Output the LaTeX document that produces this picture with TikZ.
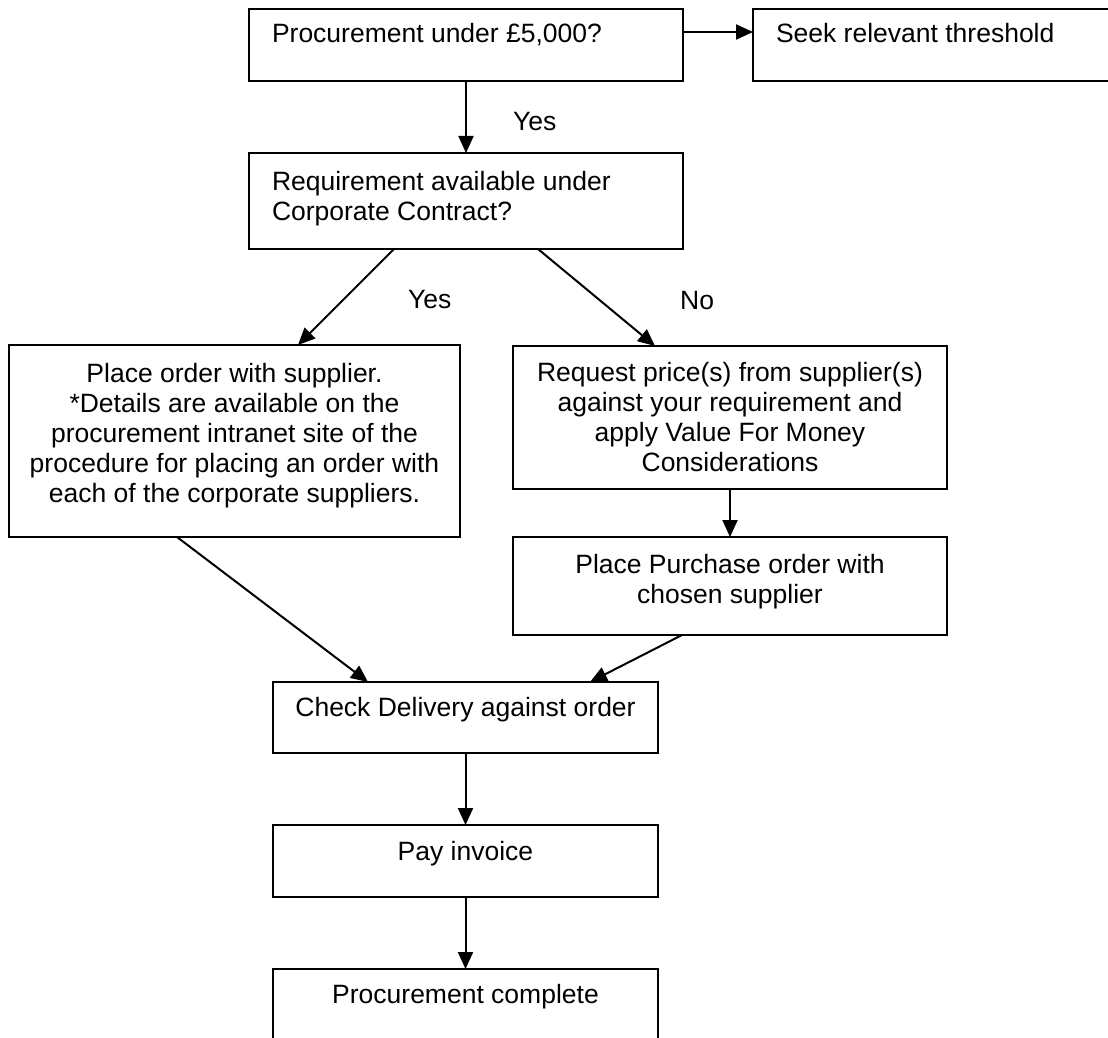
\documentclass[tikz,border=0pt]{standalone}
\usepackage{fontspec}
\setmainfont{Liberation Sans}
\usetikzlibrary{arrows.meta}

% box content: width, height, baseline of first line from top, alignment, text
\newcommand{\flowtext}[5]{\parbox[t][#2pt][t]{#1pt}{#4\rule{0pt}{#3pt}#5}}
\newcommand{\leftpad}{\raggedright\leftskip=23pt\relax}

\begin{document}
\begin{tikzpicture}[x=1pt, y=-1pt,
  every node/.style={font=\fontsize{26.5}{30}\selectfont},
  flowbox/.style={draw, line width=2pt, inner sep=0pt, outer sep=0pt, anchor=north west},
  flowarrow/.style={line width=2pt, -{Triangle[length=17pt, width=15pt]}},
  answer/.style={anchor=base west, inner sep=0pt}]

  \useasboundingbox (0,0) rectangle (1108,1038);
  \fill[white] (0,0) rectangle (1108,1038);
  \clip (0,0) rectangle (1108,1038);

  % process boxes
  \node[flowbox] (under) at (249,9)
    {\flowtext{434}{72}{34}{\leftpad}{Procurement under £5,000?}};
  \node[flowbox] (seek) at (753,9)
    {\flowtext{420}{72}{34}{\leftpad}{Seek relevant threshold}};
  \node[flowbox] (contract) at (249,153)
    {\flowtext{434}{96}{37}{\leftpad}{Requirement available under\\Corporate Contract?}};
  \node[flowbox] (placeorder) at (9,345)
    {\flowtext{451}{192}{37}{\centering}{Place order with supplier.\\
      \relax *Details are available on the\\
      procurement intranet site of the\\
      procedure for placing an order with\\
      each of the corporate suppliers.}};
  \node[flowbox] (request) at (513,346)
    {\flowtext{434}{143}{35}{\centering}{Request price(s) from supplier(s)\\
      against your requirement and\\
      apply Value For Money\\
      Considerations}};
  \node[flowbox] (purchase) at (513,537)
    {\flowtext{434}{98}{36}{\centering}{Place Purchase order with\\chosen supplier}};
  \node[flowbox] (delivery) at (273,682)
    {\flowtext{385}{71}{34}{\centering}{Check Delivery against order}};
  \node[flowbox] (invoice) at (273,825)
    {\flowtext{385}{72}{35}{\centering}{Pay invoice}};
  \node[flowbox] (complete) at (273,969)
    {\flowtext{385}{100}{34}{\centering}{Procurement complete}};

  % branch labels
  \node[answer] (yes1) at (513,131) {Yes};
  \node[answer] (yes2) at (408,308) {Yes};
  \node[answer] (no)   at (680,309) {No};

  % connectors
  \draw[flowarrow] ([yshift=-23pt]under.north east) -- ([yshift=-23pt]seek.north west);
  \draw[flowarrow] (under.south) -- (contract.north);
  \draw[flowarrow] ([xshift=145pt]contract.south west) -- ([xshift=289pt]placeorder.north west);
  \draw[flowarrow] ([xshift=289pt]contract.south west) -- ([xshift=142pt]request.north west);
  \draw[flowarrow] (request.south) -- (purchase.north);
  \draw[flowarrow] ([xshift=168pt]placeorder.south west) -- ([xshift=95pt]delivery.north west);
  \draw[flowarrow] ([xshift=169pt]purchase.south west) -- ([xshift=317pt]delivery.north west);
  \draw[flowarrow] (delivery.south) -- (invoice.north);
  \draw[flowarrow] (invoice.south) -- (complete.north);
\end{tikzpicture}
\end{document}
